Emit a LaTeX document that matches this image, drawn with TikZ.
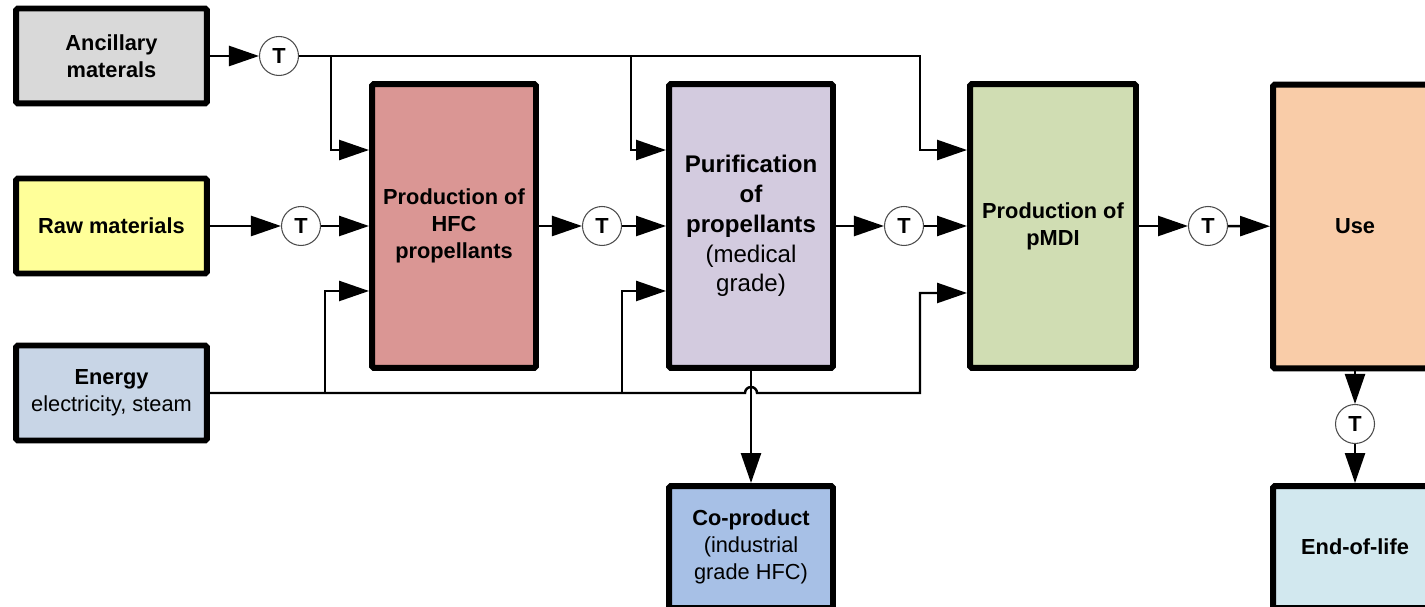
\documentclass[tikz,border=0pt]{standalone}
\usepackage{fontspec}
\setmainfont{Liberation Sans}
\usetikzlibrary{arrows.meta}

\definecolor{anccol}{HTML}{D9D9D9}
\definecolor{rawcol}{HTML}{FFFF99}
\definecolor{energycol}{HTML}{C8D5E6}
\definecolor{hfccol}{HTML}{DA9694}
\definecolor{purifcol}{HTML}{D3CBDF}
\definecolor{pmdicol}{HTML}{D0DDB3}
\definecolor{usecol}{HTML}{F9CCA8}
\definecolor{coprodcol}{HTML}{A7C0E6}
\definecolor{eolcol}{HTML}{D2E8EF}

\begin{document}
\begin{tikzpicture}[x=0.02cm,y=-0.02cm,>={Triangle[length=0.6cm,width=0.4cm]},
  flow/.style={line width=1.4pt},
  box/.style={draw,line width=3.4pt,rounded corners=1pt,align=center,inner sep=0pt,font=\fontsize{12.4}{15.3}\selectfont},
  src node/.style={box,minimum width=3.82cm,minimum height=1.9cm},
  proc node/.style={box,minimum width=3.28cm,minimum height=5.68cm},
  out node/.style={box,minimum width=3.28cm,minimum height=2.44cm},
  t node/.style={circle,draw=black!70,line width=0.6pt,fill=white,minimum size=0.78cm,inner sep=0pt,font=\bfseries\fontsize{12.4}{14}\selectfont}]
    \useasboundingbox (0,0) rectangle (1425,607);
    \clip (0,0) rectangle (1425,607);

    % inputs
    \node[src node,fill=anccol] (anc) at (111.5,56) {\textbf{Ancillary}\\\textbf{materals}};
    \node[src node,fill=rawcol] (raw) at (111.5,226) {\textbf{Raw materials}};
    \node[src node,fill=energycol] (energy) at (111.5,393) {\textbf{Energy}\\electricity, steam};

    % process chain
    \node[proc node,fill=hfccol] (hfc) at (454,226) {\textbf{Production of}\\\textbf{HFC}\\\textbf{propellants}};
    \node[proc node,fill=purifcol,font=\fontsize{13.7}{17}\selectfont] (purif) at (751,226) {\textbf{Purification}\\\textbf{of}\\\textbf{propellants}\\(medical\\grade)};
    \node[proc node,fill=pmdicol,minimum width=3.32cm] (pmdi) at (1053,226) {\textbf{Production of}\\\textbf{pMDI}};
    \node[proc node,fill=usecol] (use) at (1355,226.5) {\textbf{Use}};

    % outputs
    \node[out node,fill=coprodcol] (coprod) at (751,547) {\textbf{Co-product}\\(industrial\\grade HFC)};
    \node[out node,fill=eolcol] (eol) at (1355,547) {\textbf{End-of-life}};

    % transport
    \node[t node] (t1) at (279,56) {T};
    \node[t node] (t2) at (301,226) {T};
    \node[t node] (t3) at (602,226) {T};
    \node[t node] (t4) at (904,226) {T};
    \node[t node] (t5) at (1208,226) {T};
    \node[t node] (t6) at (1355,424) {T};

    \path[flow,->]
    (anc) edge (t1)
    (raw) edge (t2)
    (t2) edge (hfc)
    (hfc) edge (t3)
    (t3) edge (purif)
    (purif) edge (t4)
    (t4) edge (pmdi)
    (pmdi) edge (t5)
    (t5) edge (use)
    (use) edge (t6)
    (t6) edge (eol);

    % ancillary feed
    \coordinate (anc b1) at (331,56);
    \coordinate (anc b2) at (631,56);
    \coordinate (anc end) at (920,56);
    \draw[flow,->] (t1) -- (anc end) |- ([yshift=1.52cm]pmdi.west);
    \draw[flow,->] (anc b1) |- ([yshift=1.52cm]hfc.west);
    \draw[flow,->] (anc b2) |- ([yshift=1.52cm]purif.west);

    % energy feed
    \coordinate (en b1) at (325,393);
    \coordinate (en b2) at (622,393);
    \coordinate (en hop) at (751,393);
    \coordinate (en end) at (920,393);
    \draw[flow,->] (energy) -- ([xshift=-0.12cm]en hop) arc (180:0:0.12cm) -- (en end) |- ([yshift=-1.34cm]pmdi.west);
    \draw[flow,->] (en b1) |- ([yshift=-1.3cm]hfc.west);
    \draw[flow,->] (en b2) |- ([yshift=-1.3cm]purif.west);

    \draw[flow,->] (purif) -- (coprod);
\end{tikzpicture}
\end{document}
